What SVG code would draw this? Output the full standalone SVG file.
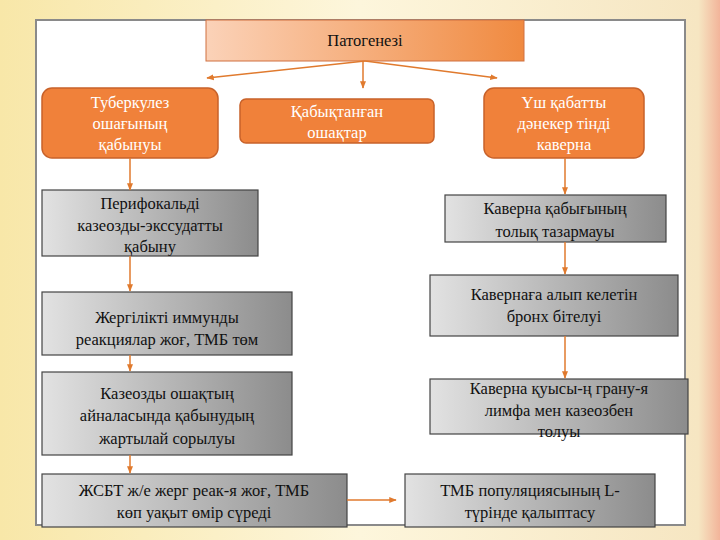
<svg xmlns="http://www.w3.org/2000/svg" width="720" height="540" viewBox="0 0 720 540">
<defs>
<linearGradient id="bg" x1="0" y1="0" x2="1" y2="0"><stop offset="0" stop-color="#f8e7a8"/><stop offset="0.5" stop-color="#fdf6dc"/><stop offset="0.97" stop-color="#f6e6c2"/><stop offset="1" stop-color="#f2b49a"/></linearGradient>
<linearGradient id="og" x1="0" y1="0" x2="1" y2="0"><stop offset="0" stop-color="#fbd2b8"/><stop offset="1" stop-color="#f08a40"/></linearGradient>
<linearGradient id="gg" x1="0" y1="0" x2="1" y2="0"><stop offset="0" stop-color="#e2e2e2"/><stop offset="1" stop-color="#8c8c8c"/></linearGradient>
<marker id="ah" viewBox="0 0 10 10" refX="9" refY="5" markerWidth="5" markerHeight="5" orient="auto"><path d="M0,1 L10,5 L0,9 z" fill="#e07a2e"/></marker>
<style>
.t{font-family:"Liberation Serif","DejaVu Serif",serif;font-size:16.5px;fill:#111;text-anchor:middle}
.w{fill:#fff}
.o{fill:#f0813a;stroke:#c8622a;stroke-width:1.5}
.g{fill:url(#gg);stroke:#444;stroke-width:1.2}
.c{stroke:#e07a2e;stroke-width:1.5;fill:none;marker-end:url(#ah)}
</style>
</defs>
<rect width="720" height="540" fill="url(#bg)"/>
<rect x="36" y="20" width="649" height="505" fill="#fff" stroke="#8a8a8a" stroke-width="2"/>
<g id="n0"><rect x="206" y="20" width="318" height="41" fill="url(#og)" stroke="#d07040"/><text class="t" x="365" y="46">Патогенезі</text></g>
<g id="n1"><rect class="o" x="42" y="88" width="176" height="70" rx="10"/><text class="t w" x="130" y="108">Туберкулез</text><text class="t w" x="130" y="129">ошағының</text><text class="t w" x="130" y="150">қабынуы</text></g>
<g id="n2"><rect class="o" x="240" y="99" width="194" height="44" rx="6"/><text class="t w" x="337" y="117">Қабықтанған</text><text class="t w" x="337" y="138">ошақтар</text></g>
<g id="n3"><rect class="o" x="484" y="88" width="160" height="70" rx="10"/><text class="t w" x="564" y="108">Үш қабатты</text><text class="t w" x="564" y="129">дәнекер тінді</text><text class="t w" x="564" y="150">каверна</text></g>
<g id="n4"><rect class="g" x="42" y="190" width="216" height="66"/><text class="t" x="150" y="209">Перифокальді</text><text class="t" x="150" y="231">казеозды-экссудатты</text><text class="t" x="150" y="252">қабыну</text></g>
<g id="n5"><rect class="g" x="445" y="195" width="221" height="47"/><text class="t" x="555" y="214">Каверна қабығының</text><text class="t" x="555" y="237">толық тазармауы</text></g>
<g id="n6"><rect class="g" x="42" y="292" width="250" height="63"/><text class="t" x="167" y="323">Жергілікті иммунды</text><text class="t" x="167" y="345">реакциялар жоғ, ТМБ төм</text></g>
<g id="n7"><rect class="g" x="430" y="275" width="248" height="61"/><text class="t" x="554" y="300">Кавернаға алып келетін</text><text class="t" x="554" y="322">бронх бітелуі</text></g>
<g id="n8"><rect class="g" x="42" y="372" width="250" height="83"/><text class="t" x="167" y="399">Казеозды ошақтың</text><text class="t" x="167" y="421">айналасында қабынудың</text><text class="t" x="167" y="444">жартылай сорылуы</text></g>
<g id="n9"><rect class="g" x="430" y="379" width="258" height="55"/><text class="t" x="559" y="394">Каверна қуысы-ң грану-я</text><text class="t" x="559" y="416">лимфа мен казеозбен</text><text class="t" x="559" y="437">толуы</text></g>
<g id="n10"><rect class="g" x="42" y="474" width="305" height="53"/><text class="t" x="194" y="496">ЖСБТ ж/е жерг реак-я жоғ, ТМБ</text><text class="t" x="194" y="518">көп уақыт өмір сүреді</text></g>
<g id="n11"><rect class="g" x="405" y="474" width="250" height="53"/><text class="t" x="530" y="496">ТМБ популяциясының L-</text><text class="t" x="530" y="518">түрінде қалыптасу</text></g>
<g id="connectors">
<line class="c" x1="365" y1="61" x2="207" y2="78"/>
<line class="c" x1="363" y1="61" x2="363" y2="88"/>
<line class="c" x1="365" y1="61" x2="497" y2="78"/>
<line class="c" x1="130" y1="158" x2="130" y2="190"/>
<line class="c" x1="130" y1="256" x2="130" y2="291"/>
<line class="c" x1="130" y1="355" x2="130" y2="371"/>
<line class="c" x1="130" y1="455" x2="130" y2="473"/>
<line class="c" x1="565" y1="158" x2="565" y2="194"/>
<line class="c" x1="565" y1="242" x2="565" y2="274"/>
<line class="c" x1="565" y1="336" x2="565" y2="378"/>
<line class="c" x1="347" y1="500" x2="396" y2="500"/>
</g>
</svg>
